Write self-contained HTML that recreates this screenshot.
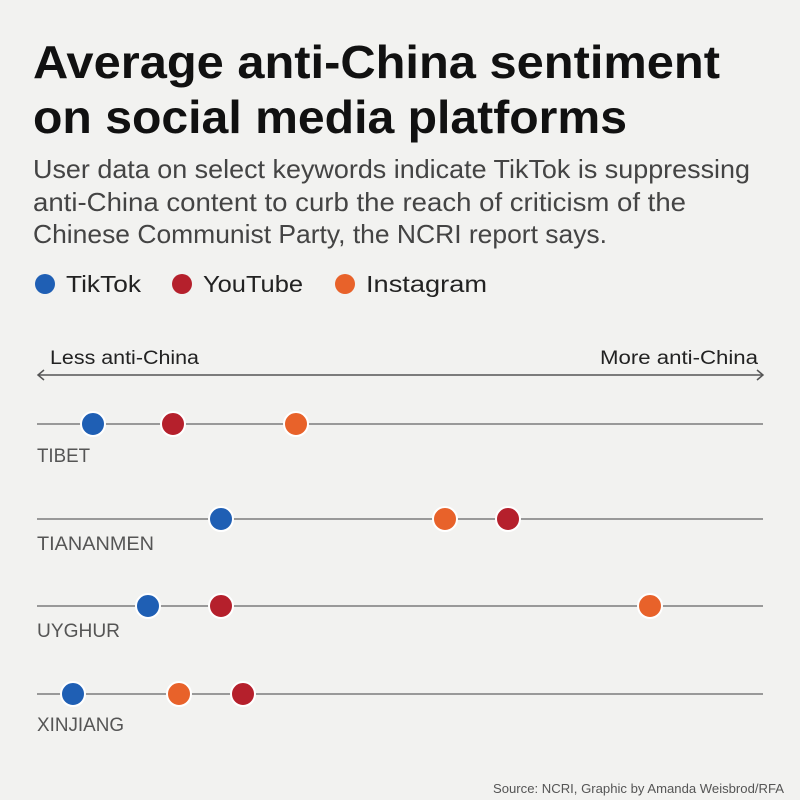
<!DOCTYPE html><html><head><style>body{margin:0;background:#f2f2f0}</style></head><body>
<svg width="800" height="800" xmlns="http://www.w3.org/2000/svg" style="display:block;font-family:'Liberation Sans','DejaVu Sans',sans-serif">
<rect width="800" height="800" fill="#f2f2f0"/>
<text x="33" y="78" font-size="46" font-weight="bold" fill="#111" textLength="687" lengthAdjust="spacingAndGlyphs">Average anti-China sentiment</text>
<text x="33" y="133" font-size="46" font-weight="bold" fill="#111" textLength="594" lengthAdjust="spacingAndGlyphs">on social media platforms</text>
<g font-size="26" fill="#444">
<text x="33" y="178" textLength="717" lengthAdjust="spacingAndGlyphs">User data on select keywords indicate TikTok is suppressing</text>
<text x="33" y="211" textLength="653" lengthAdjust="spacingAndGlyphs">anti-China content to curb the reach of criticism of the</text>
<text x="33" y="243" textLength="574" lengthAdjust="spacingAndGlyphs">Chinese Communist Party, the NCRI report says.</text></g>
<g font-size="23" fill="#222">
<circle cx="45" cy="284" r="10" fill="#1f5fb4"/><text x="66" y="292" textLength="75" lengthAdjust="spacingAndGlyphs">TikTok</text>
<circle cx="182" cy="284" r="10" fill="#b5202c"/><text x="203" y="292" textLength="100" lengthAdjust="spacingAndGlyphs">YouTube</text>
<circle cx="345" cy="284" r="10" fill="#e8622a"/><text x="366" y="292" textLength="121" lengthAdjust="spacingAndGlyphs">Instagram</text></g>
<g font-size="19" fill="#222"><text x="50" y="364" textLength="149" lengthAdjust="spacingAndGlyphs">Less anti-China</text><text x="600" y="364" textLength="158" lengthAdjust="spacingAndGlyphs">More anti-China</text></g>
<line x1="38" y1="375" x2="763" y2="375" stroke="#555" stroke-width="1.5"/>
<path d="M44 370 L38 375 L44 380 M757 370 L763 375 L757 380" fill="none" stroke="#555" stroke-width="1.5"/>
<g stroke="#999" stroke-width="2"><line x1="37" y1="424" x2="763" y2="424"/><line x1="37" y1="519" x2="763" y2="519"/><line x1="37" y1="606" x2="763" y2="606"/><line x1="37" y1="694" x2="763" y2="694"/></g>
<g stroke="#fff" stroke-width="2">
<circle cx="93" cy="424" r="12" fill="#1f5fb4"/><circle cx="173" cy="424" r="12" fill="#b5202c"/><circle cx="296" cy="424" r="12" fill="#e8622a"/>
<circle cx="221" cy="519" r="12" fill="#1f5fb4"/><circle cx="445" cy="519" r="12" fill="#e8622a"/><circle cx="508" cy="519" r="12" fill="#b5202c"/>
<circle cx="148" cy="606" r="12" fill="#1f5fb4"/><circle cx="221" cy="606" r="12" fill="#b5202c"/><circle cx="650" cy="606" r="12" fill="#e8622a"/>
<circle cx="73" cy="694" r="12" fill="#1f5fb4"/><circle cx="179" cy="694" r="12" fill="#e8622a"/><circle cx="243" cy="694" r="12" fill="#b5202c"/></g>
<g font-size="19" fill="#555"><text x="37" y="462" textLength="53" lengthAdjust="spacingAndGlyphs">TIBET</text><text x="37" y="550" textLength="117" lengthAdjust="spacingAndGlyphs">TIANANMEN</text><text x="37" y="637" textLength="83" lengthAdjust="spacingAndGlyphs">UYGHUR</text><text x="37" y="731" textLength="87" lengthAdjust="spacingAndGlyphs">XINJIANG</text></g>
<text x="493" y="793" font-size="13" fill="#555" textLength="291" lengthAdjust="spacingAndGlyphs">Source: NCRI, Graphic by Amanda Weisbrod/RFA</text>
</svg></body></html>
